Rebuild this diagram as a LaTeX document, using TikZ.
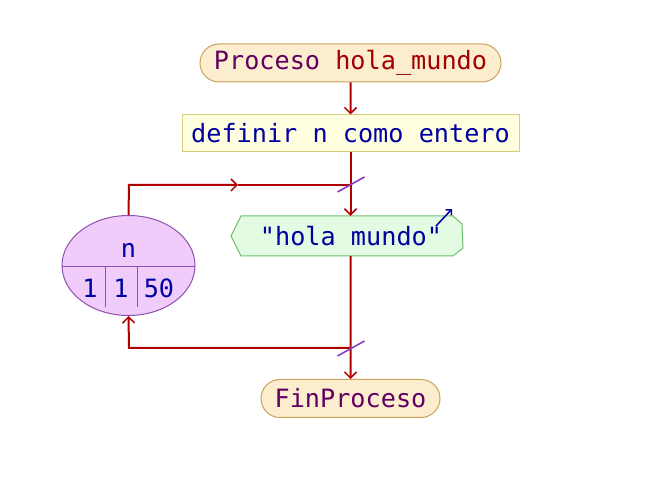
\documentclass[tikz,border=0pt]{standalone}
\usepackage{fontspec}
\setmonofont{DejaVu Sans Mono}
\usetikzlibrary{shapes.misc,shapes.geometric,arrows.meta,calc}

\definecolor{procfill}{HTML}{FDEDCF}
\definecolor{procline}{HTML}{C8A25A}
\definecolor{deffill}{HTML}{FFFFE0}
\definecolor{defline}{HTML}{D6CE7E}
\definecolor{outfill}{HTML}{E2FBE2}
\definecolor{outline}{HTML}{6CBF6C}
\definecolor{forfill}{HTML}{F0CCFA}
\definecolor{forline}{HTML}{9050B0}
\definecolor{flowred}{HTML}{B00000}
\definecolor{cutmark}{HTML}{8A3CC8}
\definecolor{kwpurple}{HTML}{600060}
\definecolor{idred}{HTML}{A00000}
\definecolor{txtblue}{HTML}{0000A0}

\tikzset{
	pstext/.style={font=\ttfamily\fontsize{25.2}{30}\selectfont},
	procbox/.style={pstext, rounded rectangle, draw=procline, fill=procfill, line width=1pt, minimum height=38pt, inner xsep=0pt},
	defbox/.style={pstext, rectangle, draw=defline, fill=deffill, line width=1pt, minimum height=37pt, text=txtblue},
	flow/.style={draw=flowred, line width=2pt, -{Straight Barb[length=6pt,width=12pt,line width=1.5pt]}},
	flowline/.style={draw=flowred, line width=2pt},
	cut/.style={draw=cutmark, line width=1.6pt},
}

\begin{document}
\begin{tikzpicture}[x=1pt, y=-1pt]
	\useasboundingbox (0,0) rectangle (649,478);

	% process start and end
	\node[procbox, minimum width=301pt] (start) at (350.5,63) {\textcolor{kwpurple}{Proceso} \textcolor{idred}{hola\_mundo}};
	\node[defbox, minimum width=337pt] (def) at (350.5,133.5) {definir n como entero};
	\node[procbox, minimum width=179pt, text=kwpurple] (end) at (350.5,398.5) {FinProceso};

	% output "hola mundo"
	\draw[draw=outline, fill=outfill, line width=1pt] (241,216) -- (453,216) -- (462,224) -- (463,248) -- (453,256) -- (241,256) -- (231,236) -- cycle;
	\node[pstext, text=txtblue, minimum height=40pt, inner sep=0pt] (out) at (351,236) {"hola mundo"};
	\draw[draw=txtblue, line width=1.5pt, -{Straight Barb[length=4pt,width=8pt]}] (436,226) -- (452,209);

	% loop variable
	\node[ellipse, draw=forline, fill=forfill, line width=1pt, minimum width=133pt, minimum height=100pt] (loop) at (128.5,265.5) {};
	\draw[draw=forline, line width=1pt] (62.2,267) -- (194.8,267);
	\draw[draw=forline, line width=1pt] (105,267) -- (105,307);
	\draw[draw=forline, line width=1pt] (137,267) -- (137,307);
	\node[pstext, text=txtblue] (var) at (128.5,250) {n};
	\node[pstext, text=txtblue] (ini) at (90,288) {1};
	\node[pstext, text=txtblue] (stp) at (121,288) {1};
	\node[pstext, text=txtblue] (fin) at (159,288) {50};

	% connectors
	\coordinate (jtop) at (350.5,185);
	\coordinate (jbot) at (350.5,348);
	\coordinate (ltop) at (129,185);
	\coordinate (mtop) at (238,185);
	\coordinate (lbot) at (129,348);

	\draw[flow] (start) -- (def);
	\draw[flow] (def) -- (out.north -| def.south);
	\draw[flow] (out.south -| def.south) -- (end);

	\draw[flow] (loop.north) -- (ltop) -- (mtop);
	\draw[flowline] (mtop) -- (jtop);
	\draw[flow] (jbot) -- (lbot) -- (loop.south);

	\draw[cut] ($(jtop)+(-13,7)$) -- ($(jtop)+(14,-8)$);
	\draw[cut] ($(jbot)+(-13,8)$) -- ($(jbot)+(14,-7)$);

\end{tikzpicture}
\end{document}
